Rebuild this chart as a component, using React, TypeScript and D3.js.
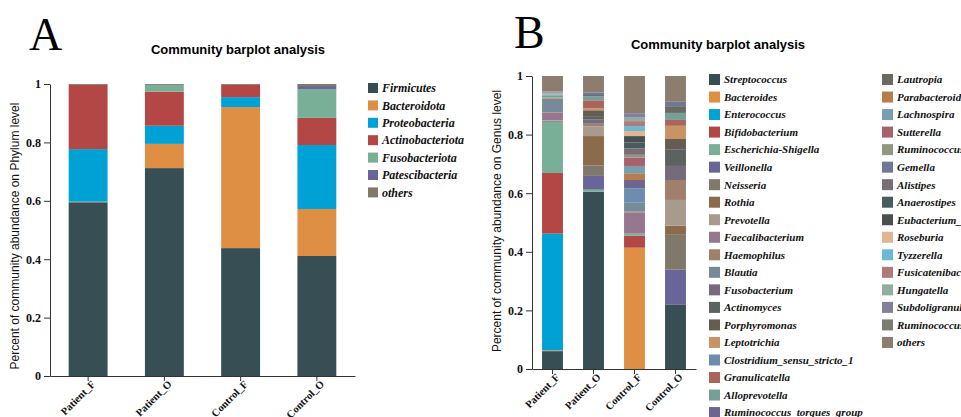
import { useEffect, useRef } from 'react';
import * as d3 from 'd3';

// samples shared by both panels
const samples = ['Patient_F', 'Patient_O', 'Control_F', 'Control_O'];
const yTicks = [0, 0.2, 0.4, 0.6, 0.8, 1];

// panel A: phylum level
const phyla = ['Firmicutes', 'Bacteroidota', 'Proteobacteria', 'Actinobacteriota', 'Fusobacteriota', 'Patescibacteria', 'others'];
const phylumColors = ['#374E55', '#DF8F44', '#00A1D5', '#B24745', '#79AF97', '#6A6599', '#80796B'];
const phylumPatientF = [0.595, 0.002, 0.180, 0.220, 0.0, 0.0, 0.003];
const phylumPatientO = [0.712, 0.083, 0.062, 0.117, 0.023, 0.0, 0.003];
const phylumControlF = [0.438, 0.483, 0.034, 0.042, 0.0, 0.0, 0.003];
const phylumControlO = [0.411, 0.161, 0.219, 0.093, 0.099, 0.010, 0.007];

// panel B: genus level
const genera = [
  'Streptococcus', 'Bacteroides', 'Enterococcus', 'Bifidobacterium', 'Escherichia-Shigella',
  'Veillonella', 'Neisseria', 'Rothia', 'Prevotella', 'Faecalibacterium',
  'Haemophilus', 'Blautia', 'Fusobacterium', 'Actinomyces', 'Porphyromonas',
  'Leptotrichia', 'Clostridium_sensu_stricto_1', 'Granulicatella', 'Alloprevotella', 'Ruminococcus_torques_group',
  'Lautropia', 'Parabacteroides', 'Lachnospira', 'Sutterella', 'Ruminococcus_gnavus_group',
  'Gemella', 'Alistipes', 'Anaerostipes', 'Eubacterium_hallii_group', 'Roseburia',
  'Tyzzerella', 'Fusicatenibacter', 'Hungatella', 'Subdoligranulum', 'Ruminococcus',
  'others',
];
const genusColors = [
  '#374E55', '#DF8F44', '#00A1D5', '#B24745', '#79AF97',
  '#6A6599', '#80796B', '#8C6A4C', '#A89A8D', '#957890',
  '#A07F6C', '#768A98', '#766A7D', '#5C625F', '#655D52',
  '#C89367', '#6E8BB0', '#AB645C', '#76A097', '#6E6590',
  '#6B6960', '#B57D4A', '#7B9DB0', '#A8616C', '#919780',
  '#6E7699', '#7A6D74', '#4A5B5E', '#484F51', '#E0B58F',
  '#6BB9D3', '#B07A7A', '#8FAE9F', '#83809B', '#7D7A70',
  '#8C7D6E',
];
const genusPatientF = [
  0.061, 0.003, 0.398, 0.207, 0.174, 0.002, 0.0, 0.002, 0.002, 0.026,
  0.002, 0.045, 0.0, 0.0, 0.0, 0.004, 0.0, 0.0, 0.008, 0.0,
  0.0, 0.0, 0.002, 0.0, 0.0, 0.0, 0.0, 0.0, 0.001, 0.001,
  0.003, 0.001, 0.001, 0.003, 0.001, 0.053,
];
const genusPatientO = [
  0.605, 0.0, 0.0, 0.0, 0.007, 0.047, 0.036, 0.100, 0.033, 0.0,
  0.009, 0.0, 0.014, 0.012, 0.020, 0.007, 0.0, 0.027, 0.014, 0.0,
  0.004, 0.0, 0.0, 0.0, 0.0, 0.009, 0.0, 0.0, 0.0, 0.0,
  0.0, 0.0, 0.0, 0.0, 0.0, 0.056,
];
const genusControlF = [
  0.0, 0.414, 0.0, 0.041, 0.007, 0.0, 0.0, 0.0, 0.0, 0.072,
  0.003, 0.032, 0.0, 0.0, 0.0, 0.0, 0.048, 0.0, 0.0, 0.028,
  0.0, 0.023, 0.025, 0.028, 0.010, 0.0, 0.022, 0.020, 0.022, 0.017,
  0.017, 0.017, 0.012, 0.015, 0.0, 0.127,
];
const genusControlO = [
  0.219, 0.0, 0.0, 0.0, 0.0, 0.120, 0.119, 0.031, 0.088, 0.0,
  0.068, 0.0, 0.048, 0.057, 0.035, 0.045, 0.0, 0.020, 0.024, 0.0,
  0.023, 0.0, 0.0, 0.0, 0.0, 0.015, 0.0, 0.0, 0.0, 0.0,
  0.0, 0.0, 0.0, 0.0, 0.0, 0.088,
];

const SANS = 'Liberation Sans, Arial, sans-serif';
const SERIF = 'Liberation Serif, Times New Roman, serif';

type Panel = {
  letter: string; letterX: number; letterY: number;
  titleX: number; titleY: number;
  yLabel: string; yLabelX: number; yLabelY: number;
  left: number; right: number; top: number; bottom: number;
  taxa: string[]; colors: string[]; values: number[][];
  legendX: number; legendY: number; legendStep: number; legendRows: number; legendColGap: number;
  swatch: number; legendFont: number;
};

function drawPanel(svg: d3.Selection<SVGSVGElement, unknown, null, undefined>, p: Panel) {
  const g = svg.append('g');

  g.append('text')
    .attr('x', p.letterX).attr('y', p.letterY)
    .attr('font-family', SERIF).attr('font-size', 46)
    .text(p.letter);

  g.append('text')
    .attr('x', p.titleX).attr('y', p.titleY)
    .attr('text-anchor', 'middle')
    .attr('font-family', SANS).attr('font-size', 13).attr('font-weight', 'bold')
    .text('Community barplot analysis');

  const x = d3.scaleBand<string>()
    .domain(samples)
    .range([p.left, p.right])
    .paddingInner(0.49)
    .paddingOuter(0.245);

  const y = d3.scaleLinear().domain([0, 1]).range([p.bottom, p.top]);

  const rows = samples.map((s, i) => {
    const row: Record<string, number | string> = { sample: s };
    p.taxa.forEach((t, j) => { row[t] = p.values[i][j]; });
    return row;
  });
  const series = d3.stack<Record<string, number | string>>().keys(p.taxa)(rows as any);

  g.append('g')
    .selectAll('g')
    .data(series)
    .join('g')
    .attr('fill', (_, i) => p.colors[i])
    .selectAll('rect')
    .data(d => d)
    .join('rect')
    .attr('x', d => x(d.data.sample as string)!)
    .attr('width', x.bandwidth())
    .attr('y', d => y(d[1]))
    .attr('height', d => Math.max(0, y(d[0]) - y(d[1])));

  const yAxis = g.append('g')
    .attr('transform', `translate(${p.left},0)`)
    .call(d3.axisLeft(y).tickValues(yTicks).tickFormat(d => d3.format('~g')(d as number)).tickSize(6).tickSizeOuter(0));
  yAxis.selectAll('text')
    .attr('font-family', SERIF).attr('font-size', 12).attr('font-weight', 'bold').attr('fill', '#111');

  const xAxis = g.append('g')
    .attr('transform', `translate(0,${p.bottom})`)
    .call(d3.axisBottom(x).tickSize(5).tickSizeOuter(0));
  xAxis.selectAll('text')
    .attr('font-family', SERIF).attr('font-size', 10.5).attr('font-weight', 'bold').attr('fill', '#111')
    .attr('text-anchor', 'end')
    .attr('transform', 'translate(1,2) rotate(-45)')
    .attr('dy', '0.35em')
    .attr('y', 6).attr('x', 0);

  [yAxis, xAxis].forEach(a => {
    a.selectAll('path, line').attr('stroke', '#333');
  });

  g.append('text')
    .attr('transform', `translate(${p.yLabelX},${p.yLabelY}) rotate(-90)`)
    .attr('text-anchor', 'middle')
    .attr('font-family', SANS).attr('font-size', 12)
    .attr('fill', '#111')
    .text(p.yLabel);

  const legend = g.append('g')
    .selectAll('g')
    .data(p.taxa)
    .join('g')
    .attr('transform', (_, i) => {
      const col = Math.floor(i / p.legendRows);
      const row = i % p.legendRows;
      return `translate(${p.legendX + col * p.legendColGap},${p.legendY + row * p.legendStep})`;
    });
  legend.append('rect')
    .attr('x', 0).attr('y', -p.swatch / 2)
    .attr('width', p.swatch).attr('height', p.swatch)
    .attr('fill', (_, i) => p.colors[i]);
  legend.append('text')
    .attr('x', p.swatch + 4).attr('dy', '0.35em')
    .attr('font-family', SERIF).attr('font-size', p.legendFont)
    .attr('font-style', 'italic').attr('font-weight', 'bold').attr('fill', '#111')
    .text(d => d);
}

export default function App() {
  const ref = useRef<SVGSVGElement>(null);

  useEffect(() => {
    const svg = d3.select(ref.current!);
    svg.selectAll('*').remove();

    drawPanel(svg, {
      letter: 'A', letterX: 29, letterY: 50,
      titleX: 238, titleY: 54,
      yLabel: 'Percent of community abundance on Phylum level', yLabelX: 19, yLabelY: 236,
      left: 50, right: 355, top: 84, bottom: 376,
      taxa: phyla, colors: phylumColors,
      values: [phylumPatientF, phylumPatientO, phylumControlF, phylumControlO],
      legendX: 368, legendY: 88, legendStep: 17.4, legendRows: 7, legendColGap: 0,
      swatch: 10, legendFont: 12,
    });

    drawPanel(svg, {
      letter: 'B', letterX: 514, letterY: 48,
      titleX: 718, titleY: 49,
      yLabel: 'Percent of community abundance on Genus level', yLabelX: 501, yLabelY: 221,
      left: 532, right: 696, top: 76, bottom: 369,
      taxa: genera, colors: genusColors,
      values: [genusPatientF, genusPatientO, genusControlF, genusControlO],
      legendX: 709, legendY: 79.5, legendStep: 17.53, legendRows: 20, legendColGap: 173,
      swatch: 11, legendFont: 11,
    });
  }, []);

  return (
    <svg
      ref={ref}
      width={961}
      height={417}
      style={{ position: 'absolute', left: 0, top: 0, background: '#fff' }}
    />
  );
}
